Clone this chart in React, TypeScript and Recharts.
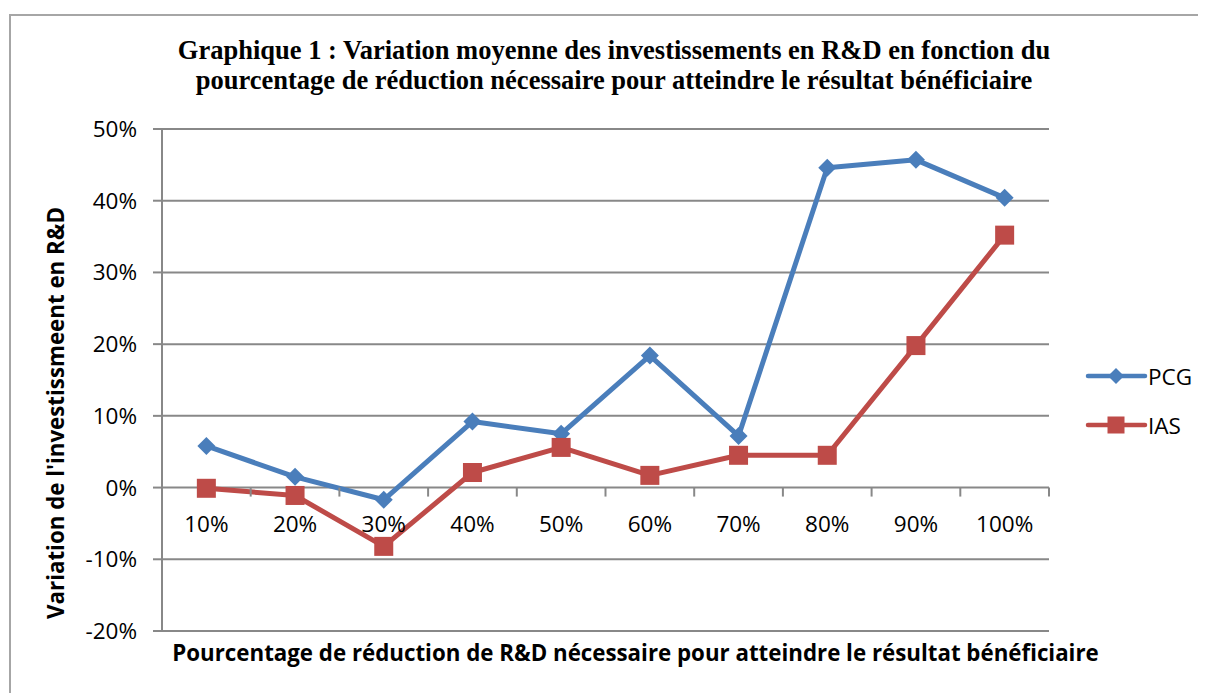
import React from "react";
import { LineChart, Line, XAxis, YAxis, CartesianGrid, Legend } from "recharts";

const categories = ["10%", "20%", "30%", "40%", "50%", "60%", "70%", "80%", "90%", "100%"];
const pcgValues = [5.8, 1.5, -1.7, 9.2, 7.5, 18.4, 7.2, 44.6, 45.7, 40.4];
const iasValues = [-0.1, -1.1, -8.2, 2.1, 5.6, 1.7, 4.5, 4.5, 19.8, 35.2];
const yTicks = [-20, -10, 0, 10, 20, 30, 40, 50];
const seriesNames = ["PCG", "IAS"];

const TITLE_1 = "Graphique 1 : Variation moyenne des investissements en R&D en fonction du";
const TITLE_2 = "pourcentage de réduction nécessaire pour atteindre le résultat bénéficiaire";
const X_TITLE = "Pourcentage de réduction de R&D  nécessaire pour atteindre le résultat bénéficiaire";
const Y_TITLE = "Variation de l'investissmeent en R&D";

const BLUE = "#4A7EBB";
const RED = "#BE4B48";
const GRID = "#888888";
const SANS = "'Open Sans', sans-serif";
const TICK_FONT = 22.5;

const W = 1190;
const H = 685;
const MARGIN = { top: 121, right: 149, bottom: 12, left: 34 };
const Y_AXIS_W = 120;
const X_AXIS_H = 50;
const PLOT_W = W - MARGIN.left - MARGIN.right - Y_AXIS_W;
const PLOT_H = H - MARGIN.top - MARGIN.bottom - X_AXIS_H;
// x axis crosses the value axis at 0
const Y_MIN = yTicks[0];
const Y_MAX = yTicks[yTicks.length - 1];
const ZERO_Y = MARGIN.top + (PLOT_H * Y_MAX) / (Y_MAX - Y_MIN);
const BAND = PLOT_W / categories.length;

const data = categories.map((c, i) => ({
  name: c,
  PCG: pcgValues[i],
  IAS: iasValues[i],
}));

function diamond(cx: number, cy: number, r: number) {
  return `M${cx},${cy - r}L${cx + r},${cy}L${cx},${cy + r}L${cx - r},${cy}Z`;
}

const DiamondDot = (props: any) => {
  const { cx, cy, index } = props;
  if (cx == null || cy == null) return <g key={index} />;
  return <path key={index} d={diamond(cx, cy, 9)} fill={BLUE} />;
};

const SquareDot = (props: any) => {
  const { cx, cy, index } = props;
  if (cx == null || cy == null) return <g key={index} />;
  return <rect key={index} x={cx - 9.5} y={cy - 9.5} width={19} height={19} fill={RED} />;
};

const CategoryTick = (props: any) => {
  const { x, payload } = props;
  const right = x + BAND / 2;
  return (
    <g>
      <line x1={right} x2={right} y1={ZERO_Y} y2={ZERO_Y + 9} stroke={GRID} strokeWidth={2} />
      <text
        x={x}
        y={ZERO_Y + 36}
        textAnchor="middle"
        dominantBaseline="central"
        fontFamily={SANS}
        fontSize={TICK_FONT}
        fill="#000"
      >
        {payload.value}
      </text>
    </g>
  );
};

const LegendBox = () => (
  <svg width={125} height={95}>
    {seriesNames.map((s, i) => {
      const y = 23 + i * 49;
      const color = i === 0 ? BLUE : RED;
      return (
        <g key={s}>
          <line x1={8} x2={65} y1={y} y2={y} stroke={color} strokeWidth={4.5} strokeLinecap="round" />
          {i === 0 ? (
            <path d={diamond(36, y, 8)} fill={color} />
          ) : (
            <rect x={27.5} y={y - 8.5} width={17} height={17} fill={color} />
          )}
          <text x={68} y={y} dominantBaseline="central" fontFamily={SANS} fontSize={TICK_FONT} fill="#000">
            {s}
          </text>
        </g>
      );
    })}
  </svg>
);

export default function App() {
  return (
    <div style={{ position: "relative", width: W, height: H, overflow: "hidden", background: "#fff" }}>
      <div
        style={{
          position: "absolute",
          left: 1,
          top: 6,
          width: 2000,
          height: 2000,
          border: "2px solid #a6a6a6",
        }}
      />
      <div
        style={{
          position: "absolute",
          left: 56,
          top: 27,
          width: 1100,
          textAlign: "center",
          fontFamily: "'Liberation Serif', serif",
          fontWeight: "bold",
          fontSize: 26.5,
          lineHeight: "30px",
          color: "#000",
          whiteSpace: "nowrap",
        }}
      >
        {TITLE_1}
        <br />
        {TITLE_2}
      </div>
      <div style={{ position: "absolute", left: 0, top: 0 }}>
        <LineChart width={W} height={H} data={data} margin={MARGIN}>
          <CartesianGrid vertical={false} stroke={GRID} strokeWidth={2} />
          <XAxis
            dataKey="name"
            height={X_AXIS_H}
            axisLine={false}
            tickLine={false}
            interval={0}
            padding={{ left: BAND / 2, right: BAND / 2 }}
            tick={<CategoryTick />}
            label={{
              content: (p: any) => {
                const vb = p.viewBox;
                return (
                  <text
                    x={vb.x + vb.width / 2 + 30}
                    y={653}
                    textAnchor="middle"
                    fontFamily={SANS}
                    fontWeight="bold"
                    fontSize={22.3}
                    fill="#000"
                  >
                    {X_TITLE}
                  </text>
                );
              },
            }}
          />
          <YAxis
            width={Y_AXIS_W}
            domain={[Y_MIN, Y_MAX]}
            ticks={yTicks}
            interval={0}
            tickFormatter={(v: number) => `${v}%`}
            axisLine={{ stroke: GRID, strokeWidth: 2 }}
            tickLine={{ stroke: GRID, strokeWidth: 2 }}
            tickSize={9}
            tickMargin={16}
            tick={{ fill: "#000", fontFamily: SANS, fontSize: TICK_FONT }}
            label={{
              content: (p: any) => {
                const vb = p.viewBox;
                const cx = 56;
                const cy = vb.y + vb.height / 2 + 33;
                return (
                  <text
                    x={cx}
                    y={cy}
                    transform={`rotate(-90 ${cx} ${cy})`}
                    textAnchor="middle"
                    fontFamily={SANS}
                    fontWeight="bold"
                    fontSize={22.3}
                    fill="#000"
                  >
                    {Y_TITLE}
                  </text>
                );
              },
            }}
          />
          <Legend
            layout="horizontal"
            align="center"
            verticalAlign="middle"
            content={<LegendBox />}
            wrapperStyle={{ left: 1072, top: 345, width: 125, height: 95 }}
          />
          <Line
            dataKey="PCG"
            stroke={BLUE}
            strokeWidth={5}
            strokeLinejoin="round"
            dot={DiamondDot}
            activeDot={false}
            isAnimationActive={false}
          />
          <Line
            dataKey="IAS"
            stroke={RED}
            strokeWidth={5}
            strokeLinejoin="round"
            dot={SquareDot}
            activeDot={false}
            isAnimationActive={false}
          />
        </LineChart>
      </div>
    </div>
  );
}
